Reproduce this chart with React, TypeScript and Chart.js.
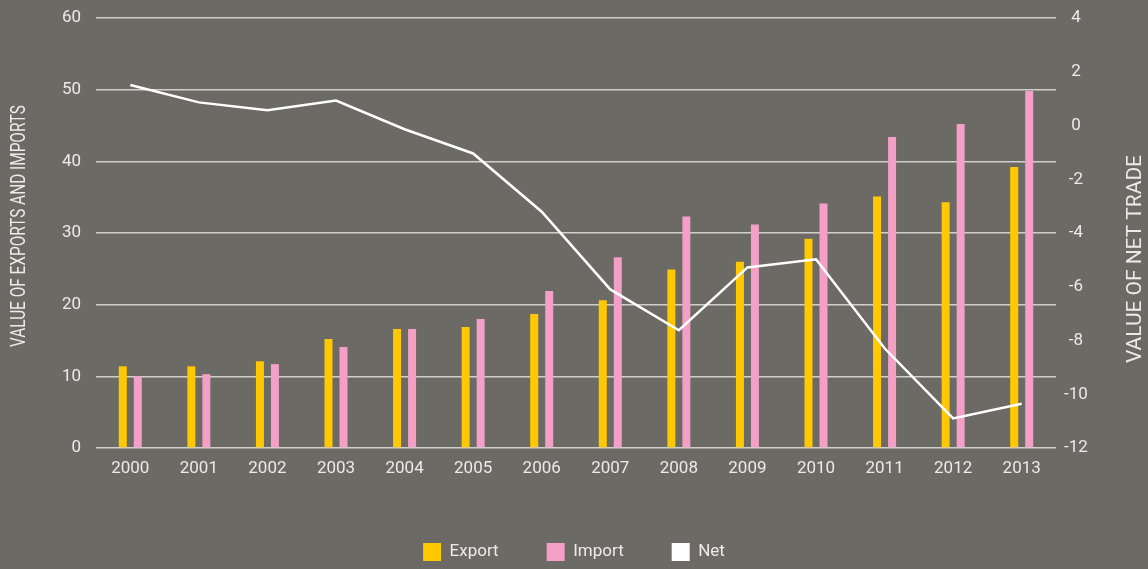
import React, { useEffect, useRef } from 'react';
import { Chart, registerables } from 'chart.js';

Chart.register(...registerables);

const years = ['2000', '2001', '2002', '2003', '2004', '2005', '2006', '2007', '2008', '2009', '2010', '2011', '2012', '2013'];
const exportValues = [11.4, 11.4, 12.1, 15.2, 16.6, 16.9, 18.7, 20.6, 24.9, 26.0, 29.2, 35.1, 34.3, 39.2];
const importValues = [10.0, 10.3, 11.7, 14.1, 16.6, 18.0, 21.9, 26.6, 32.3, 31.2, 34.1, 43.4, 45.2, 49.8];
const netValues = [1.51, 0.86, 0.57, 0.93, -0.14, -1.04, -3.21, -6.1, -7.62, -5.28, -4.98, -8.29, -10.9, -10.35];
const seriesNames = ['Export', 'Import', 'Net'];
const leftTitle = 'VALUE OF EXPORTS AND IMPORTS';
const rightTitle = 'VALUE OF NET TRADE';

const BG = '#6c6a65';
const TEXT = '#ecebe8';
const GRID = '#d2d0cc';
const EXPORT_COLOR = '#ffc800';
const IMPORT_COLOR = '#f39fc6';
const NET_COLOR = '#ffffff';
const FONT = 'Roboto';

const bgPlugin = {
  id: 'bgFill',
  beforeDraw(chart: any) {
    const ctx = chart.ctx;
    ctx.save();
    ctx.fillStyle = BG;
    ctx.fillRect(0, 0, chart.width, chart.height);
    ctx.restore();
  },
};

function drawVertical(ctx: any, text: string, cx: number, cy: number, targetW: number, size: number) {
  ctx.save();
  ctx.font = `${size}px ${FONT}`;
  ctx.fillStyle = TEXT;
  const w = ctx.measureText(text).width;
  const capH = size * 0.711;
  ctx.translate(cx + capH / 2, cy);
  ctx.rotate(-Math.PI / 2);
  ctx.scale(targetW / w, 1);
  ctx.textAlign = 'center';
  ctx.textBaseline = 'alphabetic';
  ctx.fillText(text, 0, 0);
  ctx.restore();
}

const titlesPlugin = {
  id: 'axisTitles',
  afterDraw(chart: any) {
    const ctx = chart.ctx;
    drawVertical(ctx, leftTitle, 17.5, 226, 242, 21);
    drawVertical(ctx, rightTitle, 1134, 259, 208, 21);
  },
};

export default function App() {
  const ref = useRef<HTMLCanvasElement | null>(null);

  useEffect(() => {
    document.body.style.margin = '0';
    document.body.style.background = BG;
    const canvas = ref.current;
    if (!canvas) return;
    const colors = [EXPORT_COLOR, IMPORT_COLOR, NET_COLOR];
    const tickFont = { family: FONT, size: 17 };
    const chart = new Chart(canvas, {
      type: 'bar',
      data: {
        labels: years,
        datasets: [
          {
            type: 'bar',
            label: seriesNames[0],
            data: exportValues,
            backgroundColor: EXPORT_COLOR,
            yAxisID: 'y',
            categoryPercentage: 0.4375,
            barPercentage: 0.533,
            order: 2,
          },
          {
            type: 'bar',
            label: seriesNames[1],
            data: importValues,
            backgroundColor: IMPORT_COLOR,
            yAxisID: 'y',
            categoryPercentage: 0.4375,
            barPercentage: 0.533,
            order: 2,
          },
          {
            type: 'line',
            label: seriesNames[2],
            data: netValues,
            borderColor: NET_COLOR,
            backgroundColor: NET_COLOR,
            borderWidth: 2.5,
            pointRadius: 0,
            tension: 0,
            yAxisID: 'y1',
            order: 0,
          },
        ],
      } as any,
      options: {
        responsive: false,
        animation: false,
        events: [],
        layout: { padding: { top: 18, bottom: -2, left: 0, right: 0 } },
        plugins: {
          tooltip: { enabled: false },
          legend: {
            position: 'bottom',
            labels: {
              color: TEXT,
              font: { family: FONT, size: 17 },
              boxWidth: 18,
              boxHeight: 18,
              padding: 48,
              sort: (a: any, b: any) => a.datasetIndex - b.datasetIndex,
              generateLabels: (ch: any) => {
                const items = (Chart.defaults.plugins.legend.labels as any).generateLabels(ch);
                return items.map((it: any) => ({
                  ...it,
                  fillStyle: colors[it.datasetIndex],
                  strokeStyle: colors[it.datasetIndex],
                  lineWidth: 0,
                  fontColor: TEXT,
                }));
              },
            },
          },
        },
        scales: {
          x: {
            grid: { display: false, drawTicks: false },
            border: { display: false },
            ticks: { color: TEXT, font: tickFont, padding: 11, maxRotation: 0 },
            afterFit: (s: any) => { s.height = 47; s.paddingLeft = 0; s.paddingRight = 0; },
          },
          y: {
            position: 'left',
            min: 0,
            max: 60,
            ticks: { stepSize: 10, color: TEXT, font: tickFont, padding: 15 },
            grid: { color: GRID, lineWidth: 1.5, drawTicks: false },
            border: { display: false },
            afterFit: (s: any) => { s.width = 96; s.paddingTop = 0; s.paddingBottom = 0; },
          },
          y1: {
            position: 'right',
            min: -12,
            max: 4,
            ticks: { stepSize: 2, color: TEXT, font: tickFont, padding: 8, crossAlign: 'center' },
            grid: { display: false, drawTicks: false },
            border: { display: false },
            afterFit: (s: any) => { s.width = 92; s.paddingTop = 0; s.paddingBottom = 0; },
          },
        },
      } as any,
      plugins: [bgPlugin, titlesPlugin],
    });
    return () => chart.destroy();
  }, []);

  return (
    <div style={{ width: 1148, height: 569, background: BG }}>
      <canvas ref={ref} width={1148} height={569} style={{ display: 'block' }} />
    </div>
  );
}
